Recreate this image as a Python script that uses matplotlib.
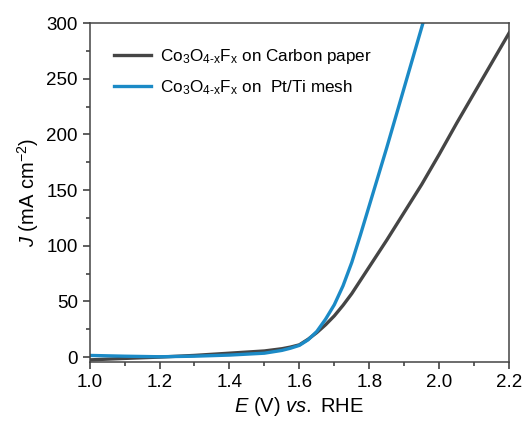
import matplotlib
matplotlib.use("Agg")
import matplotlib.pyplot as plt
from matplotlib.ticker import MultipleLocator

plt.rcParams['font.family'] = ['Liberation Sans', 'DejaVu Sans']
plt.rcParams['mathtext.fontset'] = 'custom'
plt.rcParams['mathtext.rm'] = 'Liberation Sans'
plt.rcParams['mathtext.it'] = 'Liberation Sans:italic'
plt.rcParams['mathtext.bf'] = 'Liberation Sans:bold'

# LSV data
e_carbon = [1.0, 1.1, 1.2, 1.3, 1.4, 1.5, 1.55, 1.575, 1.6, 1.625, 1.65, 1.675,
            1.7, 1.725, 1.75, 1.775, 1.8, 1.85, 1.9, 1.95, 2.0, 2.05, 2.1, 2.15, 2.2]
j_carbon = [-2.5, -1.2, 0.0, 1.5, 3.5, 5.5, 7.5, 9.0, 11.0, 16.0, 22.0, 29.0,
            37.0, 46.5, 57.0, 69.0, 81.0, 105.0, 130.0, 155.0, 182.0, 210.0, 237.0, 264.0, 291.0]

e_pt = [1.0, 1.1, 1.2, 1.3, 1.4, 1.5, 1.55, 1.575, 1.6, 1.625, 1.65, 1.675,
        1.7, 1.725, 1.75, 1.775, 1.8, 1.825, 1.85, 1.875, 1.9, 1.925, 1.95, 1.96]
j_pt = [1.5, 0.8, 0.3, 0.8, 1.8, 3.5, 6.0, 8.0, 10.5, 15.5, 23.0, 34.0,
        47.0, 64.0, 85.0, 110.0, 136.0, 162.0, 188.0, 215.0, 242.0, 269.0, 296.0, 307.0]

labels = [r"Co$_3$O$_{\text{4-x}}$F$_{\text{x}}$ on Carbon paper",
          r"Co$_3$O$_{\text{4-x}}$F$_{\text{x}}$ on  Pt/Ti mesh"]

fig = plt.figure(figsize=(5.27, 4.26), dpi=100)
ax = fig.add_axes([0.170, 0.150, 0.796, 0.796])

ax.plot(e_carbon, j_carbon, color='#454545', lw=2.4, label=labels[0])
ax.plot(e_pt, j_pt, color='#1b8ac6', lw=2.4, label=labels[1])

ax.set_xlim(1.0, 2.2)
ax.set_ylim(-4.5, 300)
ax.xaxis.set_major_locator(MultipleLocator(0.2))
ax.xaxis.set_minor_locator(MultipleLocator(0.1))
ax.yaxis.set_major_locator(MultipleLocator(50))
ax.yaxis.set_minor_locator(MultipleLocator(25))
ax.tick_params(which='both', direction='out', top=False, right=False,
               labelsize=13.5, color='#333333', width=1.1)
ax.tick_params(which='major', length=5)
ax.tick_params(which='minor', length=3)
for s in ax.spines.values():
    s.set_color('#444444')
    s.set_linewidth(1.1)

ax.set_xlabel(r"$E$ (V) $vs.$ RHE", fontsize=14.5, labelpad=3)
ax.set_ylabel(r"$J$ (mA cm$^{-2}$)", fontsize=14.5, labelpad=4)

ax.legend(loc='upper left', bbox_to_anchor=(0.021, 0.974), frameon=False,
          fontsize=12.3, handlelength=2.2, handletextpad=0.5, labelspacing=0.68)

fig.savefig("out.png", dpi=100)
